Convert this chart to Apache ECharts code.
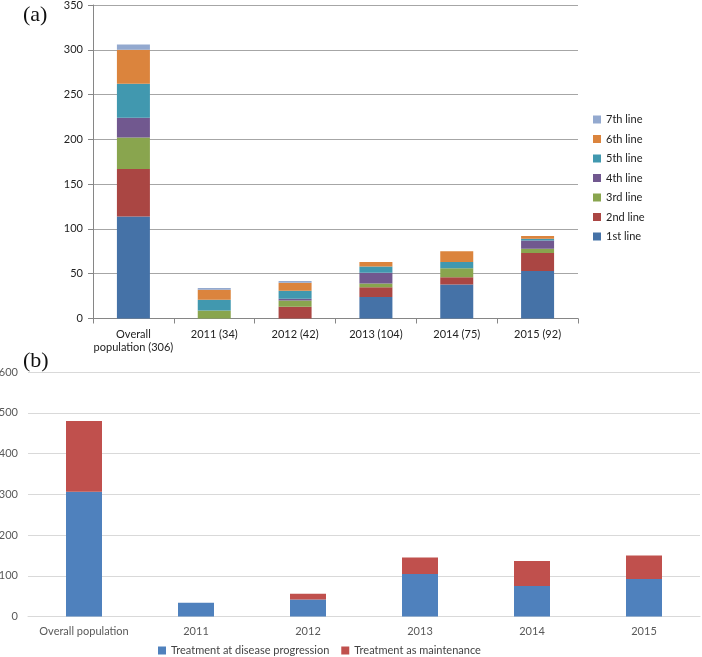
<!DOCTYPE html>
<html>
<head>
<meta charset="utf-8">
<script src="https://cdn.jsdelivr.net/npm/echarts@6/dist/echarts.min.js"></script>
<style>
  html, body { margin: 0; padding: 0; background: #fff; }
  #chart { width: 702px; height: 657px; }
</style>
</head>
<body>
<div id="chart"></div>
<script>
// (a) treatment lines per cohort
const catsA = ["Overall\npopulation (306)", "2011 (34)", "2012 (42)", "2013 (104)", "2014 (75)", "2015 (92)"];
const lineNames = ["1st line", "2nd line", "3rd line", "4th line", "5th line", "6th line", "7th line"];
const line1 = [114, 0, 0, 24, 38, 53];
const line2 = [53, 0, 13, 11, 8, 20];
const line3 = [35, 9, 7, 4, 10, 5];
const line4 = [22, 0, 2, 12, 0, 9];
const line5 = [38, 12, 9, 7, 7, 2];
const line6 = [38, 11, 9, 5, 12, 3];
const line7 = [6, 2, 2, 0, 0, 0];
const lineColors = ["#4572A7", "#AA4643", "#89A54E", "#71588F", "#4198AF", "#DB843D", "#93A9CF"];

// (b) progression vs maintenance
const catsB = ["Overall population", "2011", "2012", "2013", "2014", "2015"];
const progression = [306, 34, 42, 104, 75, 92];
const maintenance = [174, 0, 14, 41, 61, 58];

const FONT = "Lato";
const lineData = [line1, line2, line3, line4, line5, line6, line7];

const seriesA = lineNames.map((name, i) => ({
  name,
  type: "bar",
  stack: "a",
  xAxisIndex: 0,
  yAxisIndex: 0,
  barWidth: 33,
  itemStyle: { color: lineColors[i] },
  data: lineData[i],
}));

const seriesB = [
  { name: "Treatment at disease progression", color: "#4F81BD", data: progression },
  { name: "Treatment as maintenance", color: "#C0504D", data: maintenance },
].map((s) => ({
  name: s.name,
  type: "bar",
  stack: "b",
  xAxisIndex: 1,
  yAxisIndex: 1,
  barWidth: 36,
  itemStyle: { color: s.color },
  data: s.data,
}));

const chart = echarts.init(document.getElementById("chart"), null, { renderer: "canvas" });
chart.setOption({
  animation: false,
  textStyle: { fontFamily: FONT },
  title: [
    { text: "(a)", left: 18, top: -1, textStyle: { fontFamily: "Liberation Serif", fontSize: 22, fontWeight: "normal", color: "#111" } },
    { text: "(b)", left: 18, top: 345, textStyle: { fontFamily: "Liberation Serif", fontSize: 22, fontWeight: "normal", color: "#111" } },
  ],
  // grids are placed by hand; labels may spill past the edge like the original
  grid: [
    { left: 93, top: 5, right: 124, bottom: 338.5, outerBoundsMode: "none" },
    { left: 28, top: 372, right: 2, bottom: 40.5, outerBoundsMode: "none" },
  ],
  legend: [
    {
      orient: "vertical",
      left: 588,
      top: 109,
      itemWidth: 8,
      itemHeight: 8,
      itemGap: 8.5,
      icon: "rect",
      data: lineNames.slice().reverse(),
      textStyle: { fontFamily: FONT, fontSize: 11, color: "#222" },
    },
    {
      orient: "horizontal",
      left: 153,
      top: 640,
      itemWidth: 8,
      itemHeight: 8,
      itemGap: 12,
      icon: "rect",
      data: seriesB.map((s) => s.name),
      textStyle: { fontFamily: FONT, fontSize: 11, color: "#444" },
    },
  ],
  xAxis: [
    {
      type: "category",
      gridIndex: 0,
      data: catsA,
      axisLine: { lineStyle: { color: "#868686" } },
      axisTick: { show: true, length: 5, lineStyle: { color: "#868686" } },
      axisLabel: { interval: 0, color: "#222", fontSize: 11, fontFamily: FONT, margin: 9, lineHeight: 13 },
    },
    {
      type: "category",
      gridIndex: 1,
      data: catsB,
      axisLine: { lineStyle: { color: "#d9d9d9" } },
      axisTick: { show: false },
      axisLabel: { interval: 0, color: "#595959", fontSize: 11, fontFamily: FONT, margin: 9 },
    },
  ],
  yAxis: [
    {
      type: "value",
      gridIndex: 0,
      min: 0,
      max: 350,
      interval: 50,
      axisLine: { show: true, lineStyle: { color: "#868686" } },
      axisTick: { show: true, length: 5, lineStyle: { color: "#868686" } },
      splitLine: { lineStyle: { color: "#a6a6a6" } },
      axisLabel: { color: "#222", fontSize: 11, fontFamily: FONT, margin: 10 },
    },
    {
      type: "value",
      gridIndex: 1,
      min: 0,
      max: 600,
      interval: 100,
      axisLine: { show: false },
      axisTick: { show: false },
      splitLine: { lineStyle: { color: "#d9d9d9" } },
      axisLabel: { color: "#595959", fontSize: 11, fontFamily: FONT, margin: 10 },
    },
  ],
  series: seriesA.concat(seriesB),
});
</script>
</body>
</html>
